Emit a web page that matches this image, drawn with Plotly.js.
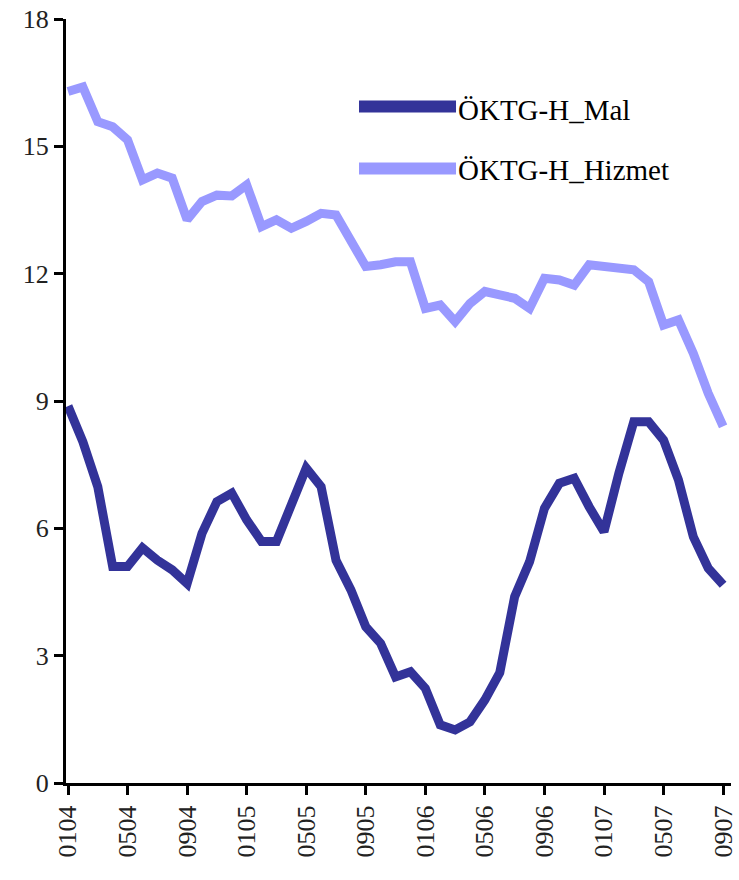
<!DOCTYPE html>
<html>
<head>
<meta charset="utf-8">
<script src="https://cdn.plot.ly/plotly-3.0.1.min.js"></script>
<style>html,body{margin:0;padding:0;background:#fff;}#chart{width:739px;height:880px;}</style>
</head>
<body>
<div id="chart"></div>
<script>
// Month labels (MMYY)
const months = ["0104","0204","0304","0404","0504","0604","0704","0804","0904","1004","1104","1204",
                "0105","0205","0305","0405","0505","0605","0705","0805","0905","1005","1105","1205",
                "0106","0206","0306","0406","0506","0606","0706","0806","0906","1006","1106","1206",
                "0107","0207","0307","0407","0507","0607","0707","0807","0907"];
const tickLabels = ["0104","0504","0904","0105","0505","0905","0106","0506","0906","0107","0507","0907"];

const seriesMalName = "ÖKTG-H_Mal";
const seriesHizmetName = "ÖKTG-H_Hizmet";

const malValues = [8.88, 8.04, 6.98, 5.10, 5.10, 5.54, 5.25, 5.02, 4.70, 5.88,
                   6.63, 6.83, 6.20, 5.69, 5.69, 6.60, 7.42, 6.98, 5.25, 4.55,
                   3.68, 3.29, 2.50, 2.62, 2.23, 1.37, 1.25, 1.44, 1.96, 2.60,
                   4.39, 5.21, 6.47, 7.06, 7.18, 6.51, 5.92, 7.30, 8.51, 8.51,
                   8.08, 7.14, 5.80, 5.06, 4.67];

const hizmetValues = [16.29, 16.40, 15.58, 15.46, 15.15, 14.21, 14.37, 14.25, 13.27, 13.70,
                      13.85, 13.83, 14.09, 13.11, 13.27, 13.07, 13.23, 13.42, 13.38, 12.76,
                      12.17, 12.21, 12.28, 12.28, 11.18, 11.26, 10.87, 11.30, 11.58, 11.50,
                      11.42, 11.18, 11.89, 11.85, 11.73, 12.21, 12.17, 12.13, 12.09, 11.81,
                      10.79, 10.91, 10.12, 9.18, 8.40];

const yTicks = [0, 3, 6, 9, 12, 15, 18];

const malColor = "#333399";
const hizmetColor = "#9999FF";
const fontFam = "Liberation Serif";

const traces = [
  {x: months, y: hizmetValues, type: "scatter", mode: "lines", name: seriesHizmetName,
   line: {color: hizmetColor, width: 9, shape: "linear"}, hoverinfo: "skip"},
  {x: months, y: malValues, type: "scatter", mode: "lines", name: seriesMalName,
   line: {color: malColor, width: 9, shape: "linear"}, hoverinfo: "skip"}
];

const layout = {
  width: 739, height: 880,
  margin: {l: 66, r: 8, t: 19, b: 97, pad: 0},
  paper_bgcolor: "#ffffff", plot_bgcolor: "#ffffff",
  showlegend: false,
  font: {family: fontFam, color: "#000"},
  xaxis: {
    type: "category",
    range: [-0.134, 44.53],
    tickmode: "array", tickvals: tickLabels, ticktext: tickLabels,
    tickangle: -90,
    ticks: "outside", ticklen: 9, tickwidth: 3, tickcolor: "#000",
    showline: true, linecolor: "#000", linewidth: 3,
    showgrid: false, zeroline: false,
    tickfont: {family: fontFam, size: 26, color: "#222"},
    fixedrange: true
  },
  yaxis: {
    range: [0, 18],
    tickmode: "array", tickvals: yTicks, ticktext: yTicks.map(String),
    ticks: "outside", ticklen: 9, tickwidth: 3, tickcolor: "#000",
    showline: true, linecolor: "#000", linewidth: 3,
    showgrid: false, zeroline: false,
    tickfont: {family: fontFam, size: 26, color: "#222"},
    fixedrange: true
  },
  shapes: [
    {type: "line", xref: "paper", yref: "paper", x0: 0.4406, x1: 0.5865, y0: 0.8855, y1: 0.8855,
     line: {color: malColor, width: 12}},
    {type: "line", xref: "paper", yref: "paper", x0: 0.4406, x1: 0.5865, y0: 0.8043, y1: 0.8043,
     line: {color: hizmetColor, width: 12}}
  ],
  annotations: [
    {text: seriesMalName, xref: "paper", yref: "paper", x: 0.5865, y: 0.881, xanchor: "left", yanchor: "middle",
     showarrow: false, font: {family: fontFam, size: 29, color: "#000"}},
    {text: seriesHizmetName, xref: "paper", yref: "paper", x: 0.5865, y: 0.8024, xanchor: "left", yanchor: "middle",
     showarrow: false, font: {family: fontFam, size: 29, color: "#000"}}
  ]
};

Plotly.newPlot("chart", traces, layout, {staticPlot: true, displayModeBar: false});
</script>
</body>
</html>
